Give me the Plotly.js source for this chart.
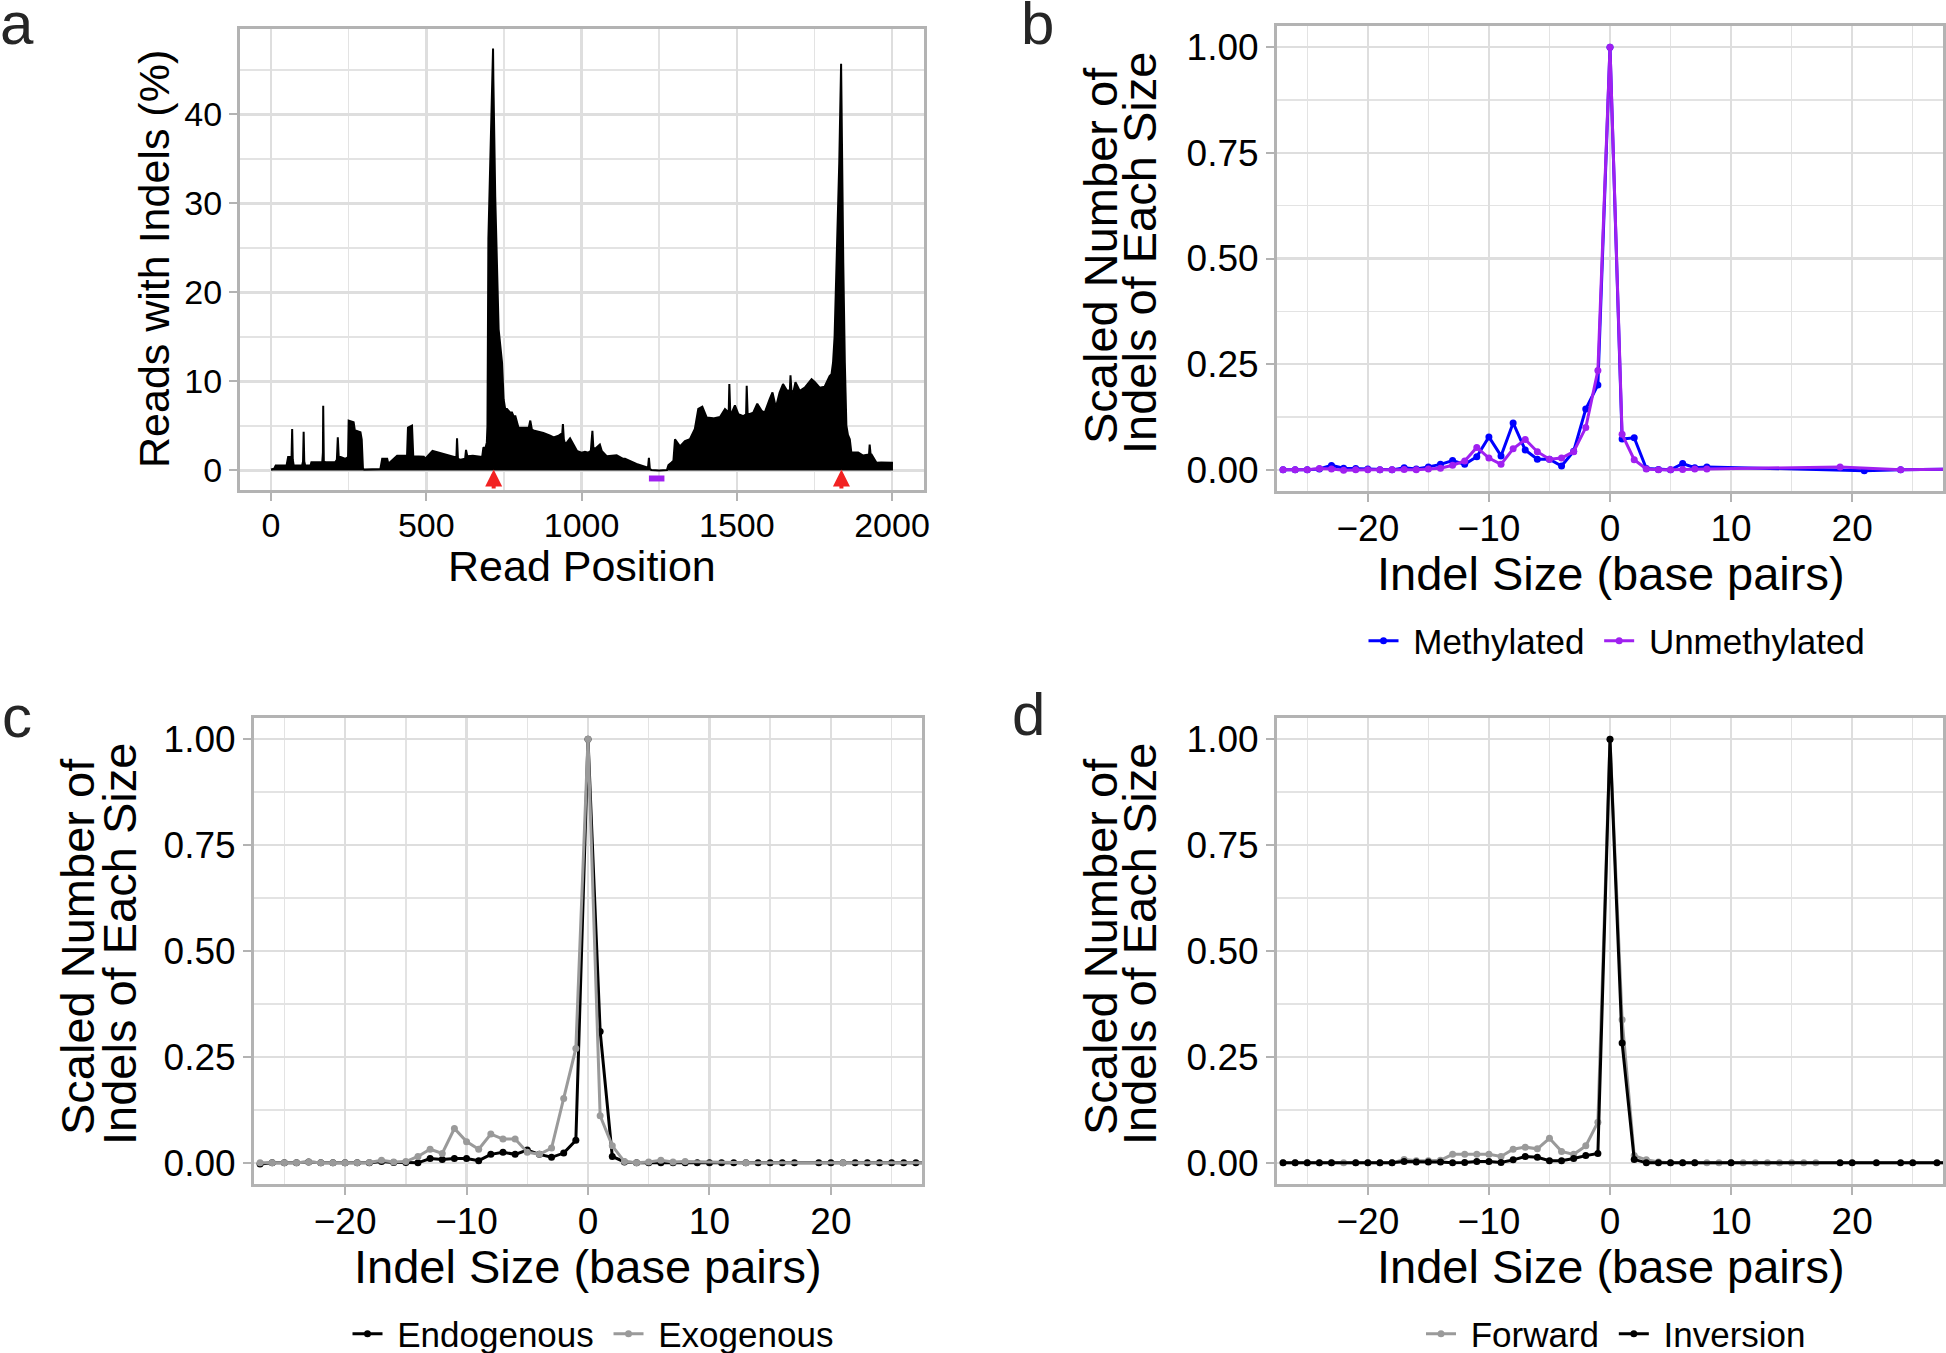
<!DOCTYPE html>
<html>
<head>
<meta charset="utf-8">
<script src="https://cdn.plot.ly/plotly-3.0.1.min.js"></script>
<style>
  html, body { margin: 0; padding: 0; background: #fff; }
  #plot { width: 1946px; height: 1353px; }
</style>
</head>
<body>
<div id="plot"></div>
<script>
// panel a: reads with indels along the read
const readPos = [0, 10, 15, 50, 55, 66, 68, 70, 73, 100, 103, 105, 107, 110, 127, 130, 165, 167, 168, 170, 175, 207, 212, 215, 218, 224, 240, 248, 250, 266, 270, 272, 288, 292, 296, 300, 352, 358, 374, 378, 406, 438, 441, 454, 458, 480, 492, 496, 520, 590, 597, 599, 602, 610, 625, 628, 632, 650, 680, 684, 690, 695, 697, 700, 707, 715, 716, 722, 733, 744, 749, 754, 760, 770, 776, 781, 787, 797, 813, 830, 835, 840, 845, 851, 872, 877, 899, 910, 926, 931, 938, 940, 943, 947, 953, 963, 979, 985, 1000, 1011, 1022, 1030, 1035, 1038, 1043, 1059, 1065, 1081, 1113, 1134, 1140, 1177, 1209, 1214, 1217, 1220, 1225, 1250, 1275, 1280, 1290, 1296, 1301, 1317, 1333, 1349, 1365, 1376, 1389, 1403, 1424, 1446, 1462, 1474, 1476, 1479, 1484, 1494, 1505, 1521, 1530, 1532, 1535, 1540, 1553, 1566, 1580, 1590, 1606, 1615, 1626, 1638, 1649, 1662, 1671, 1673, 1676, 1682, 1689, 1703, 1719, 1735, 1741, 1751, 1767, 1783, 1789, 1799, 1805, 1810, 1815, 1819, 1823, 1830, 1836, 1840, 1843, 1848, 1853, 1858, 1864, 1869, 1891, 1907, 1926, 1928, 1931, 1934, 1950, 1965, 1982, 2003];
const readPct = [0.1, 0.2, 0.55, 0.55, 1.5, 1.5, 4.65, 1.2, 0.55, 0.55, 1.0, 4.35, 1.0, 0.55, 0.55, 0.93, 0.93, 2.0, 7.26, 1.0, 0.93, 0.93, 1.2, 3.72, 1.5, 1.5, 1.3, 1.5, 5.59, 5.4, 4.48, 4.48, 4.3, 3.5, 0.2, 0.1, 0.15, 1.3, 1.3, 0.75, 1.65, 1.65, 4.8, 5.03, 1.6, 1.55, 1.55, 1.3, 2.2, 1.5, 1.5, 3.6, 1.3, 1.2, 1.3, 2.3, 1.6, 1.65, 1.5, 2.6, 2.4, 3.15, 5, 26, 36, 47.4, 44, 30.8, 15.85, 12.1, 8.0, 6.9, 6.9, 6.5, 6.5, 6.1, 6.1, 4.8, 4.8, 4.8, 5.6, 4.6, 4.5, 4.45, 4.3, 4.2, 3.9, 3.7, 3.9, 4.0, 4.2, 5.2, 3.5, 2.96, 3.15, 3.6, 2.6, 2.2, 2.0, 2.1, 2.0, 2.2, 4.45, 2.6, 2.4, 2.9, 2.2, 1.6, 1.7, 1.3, 1.3, 0.74, 0.37, 0.3, 1.4, 0.2, 0.05, 0.0, 0.05, 0.6, 0.9, 1.1, 3.5, 2.7, 3.3, 3.5, 4.65, 6.9, 7.15, 5.96, 5.85, 6.0, 6.9, 6.5, 9.7, 6.6, 6.5, 7.3, 6.33, 6.1, 6.3, 9.5, 6.4, 6.33, 6.5, 7.5, 6.7, 6.5, 8.0, 8.76, 7.08, 8.76, 9.7, 8.94, 9.0, 10.7, 9.0, 8.76, 9.9, 8.94, 9.3, 10.06, 10.25, 9.95, 9.3, 9.4, 9.9, 10.6, 10.8, 12.1, 15.0, 19.6, 25.2, 34.5, 45.7, 30.0, 23.3, 12.1, 5.03, 4.0, 3.5, 2.0, 2.0, 1.67, 1.8, 2.9, 1.8, 1.8, 0.86, 0.9, 0.86, 0.86];
const cutSites = [717, 1837];
const guideRange = [1217, 1267];

// panel b
const methX = [-27, -26, -25, -24, -23, -22, -21, -20, -19, -18, -17, -16, -15, -14, -13, -12, -11, -10, -9, -8, -7, -6, -5, -4, -3, -2, -1, 0, 1, 2, 3, 4, 5, 6, 7, 8, 21, 24, 30];
const methY = [0, 0, 0, 0.002, 0.0106, 0.004, 0.003, 0.002, 0, 0, 0.005, 0.002, 0.007, 0.013, 0.022, 0.013, 0.031, 0.078, 0.033, 0.111, 0.047, 0.025, 0.025, 0.009, 0.044, 0.144, 0.201, 1, 0.073, 0.076, 0.003, 0.001, 0, 0.015, 0.005, 0.007, -0.002, 0, 0.002];
const unmethX = [-27, -26, -25, -24, -23, -22, -21, -20, -19, -18, -17, -16, -15, -14, -13, -12, -11, -10, -9, -8, -7, -6, -5, -4, -3, -2, -1, 0, 1, 2, 3, 4, 5, 6, 7, 8, 19, 24, 30];
const unmethY = [0, 0, 0, 0.003, 0.002, -0.001, 0, 0, 0, 0, 0.001, 0, 0.002, 0.004, 0.011, 0.021, 0.053, 0.028, 0.013, 0.05, 0.072, 0.043, 0.025, 0.028, 0.043, 0.1, 0.235, 1, 0.084, 0.024, 0.002, 0, 0, 0.001, 0.002, 0.002, 0.007, 0, 0.002];

// panel c
const endoX = [-27, -26, -25, -24, -23, -22, -21, -20, -19, -18, -17, -16, -15, -14, -13, -12, -11, -10, -9, -8, -7, -6, -5, -4, -3, -2, -1, 0, 1, 2, 3, 4, 5, 6, 7, 8, 9, 10, 11, 12, 13, 14, 15, 16, 17, 19, 20, 21, 22, 23, 24, 25, 26, 27, 30];
const endoY = [-0.003, 0, 0, 0, 0.002, 0, 0, 0, 0, 0, 0.003, 0.001, 0.001, 0, 0.01, 0.008, 0.01, 0.01, 0.005, 0.02, 0.025, 0.02, 0.03, 0.02, 0.013, 0.023, 0.053, 1, 0.31, 0.015, 0.002, 0, 0, 0, 0, 0, 0, 0, 0, 0, 0, 0, 0, 0, 0, 0, 0, 0, 0, 0, 0, 0, 0, 0, 0];
const exoX = [-27, -26, -25, -24, -23, -22, -21, -20, -19, -18, -17, -16, -15, -14, -13, -12, -11, -10, -9, -8, -7, -6, -5, -4, -3, -2, -1, 0, 1, 2, 3, 4, 5, 6, 7, 8, 13, 21, 30];
const exoY = [0, 0, 0, 0, 0.002, 0, 0, 0, 0, 0.001, 0.006, 0.002, 0.003, 0.015, 0.032, 0.022, 0.081, 0.05, 0.032, 0.068, 0.056, 0.056, 0.025, 0.02, 0.035, 0.152, 0.27, 1, 0.111, 0.04, 0.003, 0, 0.002, 0.006, 0.002, 0.003, 0, 0, 0];

// panel d
const fwdX = [-27, -26, -25, -24, -23, -22, -21, -20, -19, -18, -17, -16, -15, -14, -13, -12, -11, -10, -9, -8, -7, -6, -5, -4, -3, -2, -1, 0, 1, 2, 3, 4, 5, 6, 7, 8, 9, 10, 11, 12, 13, 14, 15, 16, 17, 30];
const fwdY = [0, 0, 0, 0, 0, 0, 0, 0, 0, 0, 0.008, 0.005, 0.005, 0.006, 0.02, 0.02, 0.02, 0.02, 0.015, 0.032, 0.037, 0.033, 0.058, 0.027, 0.02, 0.04, 0.096, 1, 0.338, 0.017, 0.007, 0.002, 0, 0, 0, 0, 0, 0, 0, 0, 0, 0, 0, 0, 0, 0];
const invX = [-27, -26, -25, -24, -23, -21, -20, -19, -18, -17, -16, -15, -14, -13, -12, -11, -10, -9, -8, -7, -6, -5, -4, -3, -2, -1, 0, 1, 2, 3, 4, 5, 6, 7, 10, 19, 20, 22, 24, 25, 27, 30];
const invY = [0, 0, 0, 0, 0, 0, 0, 0, 0, 0.003, 0.002, 0.002, 0.002, 0, 0.001, 0.003, 0.003, 0.001, 0.007, 0.015, 0.013, 0.005, 0.005, 0.01, 0.017, 0.022, 1, 0.283, 0.008, 0, 0, 0, 0, 0, 0, 0, 0, 0, 0, 0, 0, 0];

const W = 1946, H = 1353;
const FONT = 'Liberation Sans, Arial, Helvetica, sans-serif';
const px = v => v / W;
const py = v => 1 - v / H;
const NB = '\u00A0'; // keeps a little room around legend labels

function axisStyle(extra, minorStep) {
  return Object.assign({
    showline: true, mirror: true, linecolor: '#B3B3B3', linewidth: 3,
    showgrid: true, gridcolor: '#DEDEDE', gridwidth: 2.5,
    zeroline: false, ticks: 'outside', ticklen: 8, tickwidth: 2, tickcolor: '#B3B3B3',
    tickfont: {size: 37, color: '#000', family: FONT},
    minor: {dtick: minorStep, showgrid: true, gridcolor: '#E3E3E3', gridwidth: 1.5},
    fixedrange: true
  }, extra);
}

function sizeAxes(xname, yname, xdom, ydom) {
  return {
    [xname]: axisStyle({domain: xdom, range: [-27.5, 27.5], tick0: 0, dtick: 10,
      ticklabelstandoff: -5, anchor: yname.replace('axis', '')}, 5),
    [yname]: axisStyle({domain: ydom, range: [-0.05, 1.05], tick0: 0, dtick: 0.25,
      tickformat: '.2f', anchor: xname.replace('axis', '')}, 0.125)
  };
}

function line(x, y, color, name, xa, ya, leg) {
  return {
    x: x, y: y, name: NB + name + NB, type: 'scatter', mode: 'lines+markers',
    line: {color: color, width: 3}, marker: {color: color, size: 7},
    xaxis: xa, yaxis: ya, legend: leg, hoverinfo: 'skip', cliponaxis: true
  };
}

const traces = [
  {x: readPos, y: readPct, type: 'scatter', mode: 'lines', fill: 'tozeroy',
   fillcolor: '#000', line: {color: '#000', width: 2}, xaxis: 'x', yaxis: 'y',
   showlegend: false, hoverinfo: 'skip'},
  line(methX, methY, '#0000FF', 'Methylated', 'x2', 'y2', 'legend'),
  line(unmethX, unmethY, '#A020F0', 'Unmethylated', 'x2', 'y2', 'legend'),
  line(endoX, endoY, '#000000', 'Endogenous', 'x3', 'y3', 'legend2'),
  line(exoX, exoY, '#9A9A9A', 'Exogenous', 'x3', 'y3', 'legend2'),
  line(fwdX, fwdY, '#9A9A9A', 'Forward', 'x4', 'y4', 'legend3'),
  line(invX, invY, '#000000', 'Inversion', 'x4', 'y4', 'legend3')
];

function txt(text, x, y, size, angle, extra) {
  return Object.assign({text: text, x: px(x), y: py(y), xref: 'paper', yref: 'paper',
    showarrow: false, textangle: angle || 0, xanchor: 'center', yanchor: 'middle',
    font: {size: size, color: '#000', family: FONT}}, extra || {});
}

const letterFont = {size: 60, color: '#262626', family: FONT};
const annotations = [
  txt('a', 17, 24, 60, 0, {font: letterFont}),
  txt('b', 1037, 24, 60, 0, {font: letterFont}),
  txt('c', 17, 716, 60, 0, {font: letterFont}),
  txt('d', 1028, 714, 60, 0, {font: letterFont}),
  txt('Read Position', 582, 566, 43),
  txt('Reads with Indels (%)', 154, 259, 43, -90),
  txt('Indel Size (base pairs)', 1611, 573, 47),
  txt('Scaled Number of', 1100, 256, 47, -90),
  txt('Indels of Each Size', 1139, 253, 47, -90),
  txt('Indel Size (base pairs)', 588, 1266, 47),
  txt('Scaled Number of', 77, 947, 47, -90),
  txt('Indels of Each Size', 119, 944, 47, -90),
  txt('Indel Size (base pairs)', 1611, 1266, 47),
  txt('Scaled Number of', 1100, 947, 47, -90),
  txt('Indels of Each Size', 1139, 944, 47, -90)
];

// red arrows marking the cut sites
cutSites.forEach(function (c) {
  annotations.push({x: c, y: 0.1, ax: c, ay: -2.2, xref: 'x', yref: 'y', axref: 'x', ayref: 'y',
    text: '', showarrow: true, arrowhead: 2, arrowsize: 0.85, arrowwidth: 4,
    arrowcolor: '#F22222', standoff: 0, startstandoff: 0});
});

const legendBase = {orientation: 'h', xanchor: 'center', yanchor: 'middle',
  font: {size: 35, color: '#000', family: FONT}, bgcolor: 'rgba(0,0,0,0)', itemwidth: 30};

const layout = Object.assign({
  width: W, height: H,
  margin: {l: 0, r: 0, t: 0, b: 0, autoexpand: false},
  paper_bgcolor: '#fff', plot_bgcolor: '#fff',
  font: {family: FONT, color: '#000'},
  xaxis: axisStyle({domain: [px(240), px(924)], range: [-100, 2103], tick0: 0, dtick: 500,
    ticklabelstandoff: -5, anchor: 'y', tickfont: {size: 34, color: '#000', family: FONT}}, 250),
  yaxis: axisStyle({domain: [py(490), py(29)], range: [-2.2, 49.6], tick0: 0, dtick: 10,
    anchor: 'x', tickfont: {size: 34, color: '#000', family: FONT}}, 5),
  legend: Object.assign({x: px(1622), y: py(641)}, legendBase),
  legend2: Object.assign({x: px(598), y: py(1334)}, legendBase),
  legend3: Object.assign({x: px(1621), y: py(1334)}, legendBase),
  annotations: annotations,
  shapes: [{type: 'rect', xref: 'x', yref: 'y', x0: guideRange[0], x1: guideRange[1],
    y0: -1.24, y1: -0.57, fillcolor: '#A020F0', line: {width: 0}}]
},
  sizeAxes('xaxis2', 'yaxis2', [px(1277), px(1943)], [py(491), py(26)]),
  sizeAxes('xaxis3', 'yaxis3', [px(254), px(922)], [py(1184), py(718)]),
  sizeAxes('xaxis4', 'yaxis4', [px(1277), px(1943)], [py(1184), py(718)])
);

Plotly.newPlot('plot', traces, layout, {staticPlot: true});
</script>
</body>
</html>
